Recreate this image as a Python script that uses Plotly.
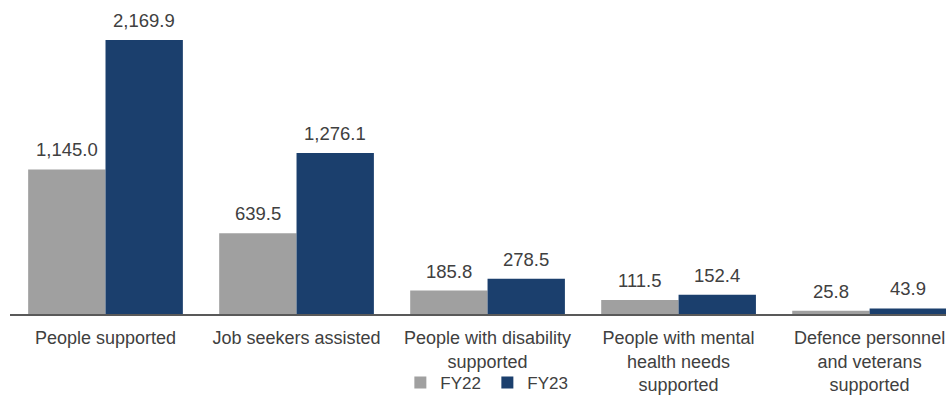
import plotly.graph_objects as go

categories = [
    "People supported",
    "Job seekers assisted",
    "People with disability<br>supported",
    "People with mental<br>health needs<br>supported",
    "Defence personnel<br>and veterans<br>supported",
]
fy22 = [1145.0, 639.5, 185.8, 111.5, 25.8]
fy23 = [2169.9, 1276.1, 278.5, 152.4, 43.9]
series_names = ["FY22", "FY23"]

FONT = "Liberation Sans, Arial, sans-serif"
TXT = "#404040"
BARGAP = 0.19
CAT_PX = (950 - 9.5 - 4) / 4.9  # pixel width of one category

fig = go.Figure()
fig.add_trace(go.Bar(
    x=categories, y=fy22, name=series_names[0],
    marker=dict(color="#A0A0A0", line=dict(width=0)),
))
fig.add_trace(go.Bar(
    x=categories, y=fy23, name=series_names[1],
    marker=dict(color="#1B3F6D", line=dict(width=0)),
))

# data labels above bars
half = CAT_PX * (1 - BARGAP) / 4
annotations = []
for vals, sign in ((fy22, -1), (fy23, 1)):
    for c, v in zip(categories, vals):
        annotations.append(dict(
            x=c, y=v, xref="x", yref="y", text=f"{v:,.1f}", showarrow=False,
            xanchor="center", yanchor="bottom", xshift=sign * half, yshift=7,
            font=dict(family=FONT, size=18.5, color=TXT),
        ))

fig.update_layout(
    width=950, height=398,
    margin=dict(l=9.5, r=4, t=11, b=84, autoexpand=False),
    paper_bgcolor="white", plot_bgcolor="white",
    barmode="group", bargap=BARGAP, bargroupgap=0,
    font=dict(family=FONT, size=18.5, color=TXT),
    showlegend=True,
    legend=dict(
        orientation="h", x=0.51, xanchor="center", y=-0.168, yanchor="top",
        font=dict(family=FONT, size=17, color=TXT),
        bgcolor="rgba(0,0,0,0)",
        itemwidth=30, traceorder="normal", entrywidth=42,
    ),
    annotations=annotations,
)
fig.update_xaxes(
    range=[-0.5, 4.4], showline=True, linecolor="#595959", linewidth=1.5,
    showgrid=False, ticks="outside", ticklen=7, tickcolor="rgba(0,0,0,0)",
    tickfont=dict(family=FONT, size=18, color=TXT), automargin=False,
)
fig.update_yaxes(range=[0, 2400], visible=False, showgrid=False, zeroline=False)

fig.write_html(
    "out.html",
    config={"displayModeBar": False},
    post_script="document.body.style.margin='0';document.body.style.overflow='hidden';",
)
